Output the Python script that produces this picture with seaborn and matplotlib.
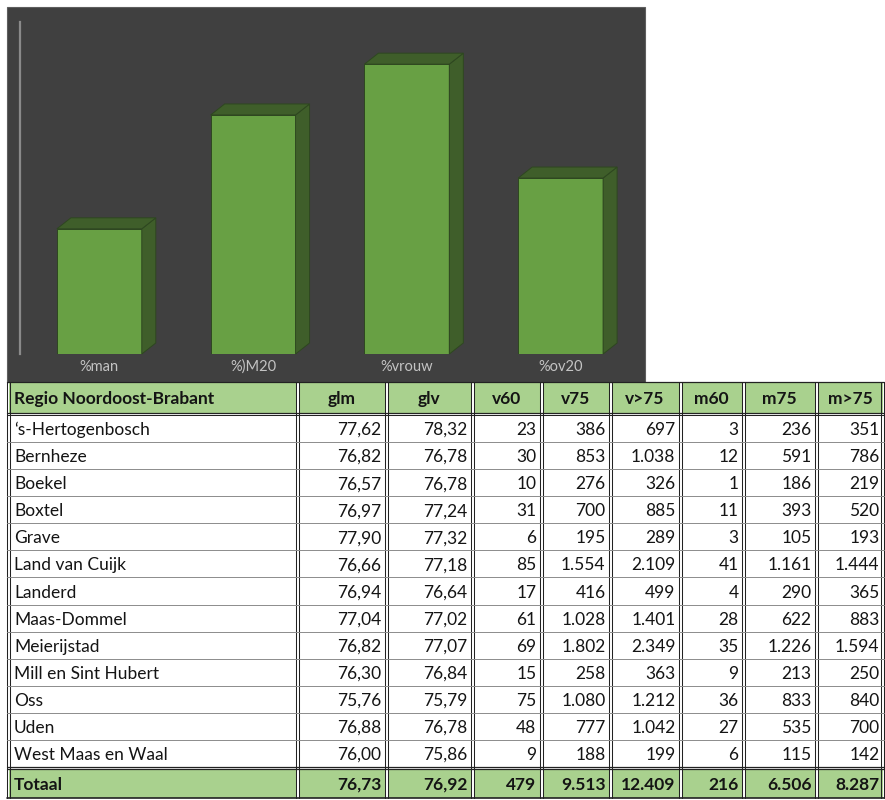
import matplotlib
matplotlib.use("Agg")
import matplotlib.pyplot as plt
import seaborn as sns
import pandas as pd
from matplotlib.patches import Polygon, Rectangle

# ---------------- data ----------------
bar_categories = ["%man", "%)M20", "%vrouw", "%ov20"]
bar_values = [37.7, 72.0, 87.3, 53.0]

regions = ["\u2018s-Hertogenbosch", "Bernheze", "Boekel", "Boxtel", "Grave",
           "Land van Cuijk", "Landerd", "Maas-Dommel", "Meierijstad",
           "Mill en Sint Hubert", "Oss", "Uden", "West Maas en Waal"]
glm = [77.62, 76.82, 76.57, 76.97, 77.90, 76.66, 76.94, 77.04, 76.82, 76.30, 75.76, 76.88, 76.00]
glv = [78.32, 76.78, 76.78, 77.24, 77.32, 77.18, 76.64, 77.02, 77.07, 76.84, 75.79, 76.78, 75.86]
v60 = [23, 30, 10, 31, 6, 85, 17, 61, 69, 15, 75, 48, 9]
v75 = [386, 853, 276, 700, 195, 1554, 416, 1028, 1802, 258, 1080, 777, 188]
v_gt75 = [697, 1038, 326, 885, 289, 2109, 499, 1401, 2349, 363, 1212, 1042, 199]
m60 = [3, 12, 1, 11, 3, 41, 4, 28, 35, 9, 36, 27, 6]
m75 = [236, 591, 186, 393, 105, 1161, 290, 622, 1226, 213, 833, 535, 115]
m_gt75 = [351, 786, 219, 520, 193, 1444, 365, 883, 1594, 250, 840, 700, 142]
total_label = "Totaal"
totals = [76.73, 76.92, 479, 9513, 12409, 216, 6506, 8287]
headers = ["Regio Noordoost-Brabant", "glm", "glv", "v60", "v75", "v>75", "m60", "m75", "m>75"]

# ---------------- figure ----------------
sns.set_theme(style="white")
plt.rcParams["font.family"] = ["Lato", "DejaVu Sans"]

W, H = 885, 800
fig = plt.figure(figsize=(W / 100, H / 100), dpi=100)
fig.patch.set_facecolor("white")


def fx(px):
    return px / W


def fy(py):
    return 1 - py / H


# dark chart panel
panel = Rectangle((fx(7), fy(382)), fx(645) - fx(7), fy(7) - fy(382),
                  transform=fig.transFigure, facecolor="#404040",
                  edgecolor="#5e5e5e", lw=0.8, zorder=-5)
fig.patches.append(panel)

ax = fig.add_axes([fx(20), fy(354), fx(640) - fx(20), fy(22) - fy(354)])
ax.set_zorder(2)
ax.patch.set_alpha(0)
df = pd.DataFrame({"cat": bar_categories, "val": bar_values})
front = "#68A044"
dark = "#3F5E2A"
edge = "#2E4720"
sns.barplot(data=df, x="cat", y="val", color=front, saturation=1, width=0.552,
            ax=ax, edgecolor=edge, linewidth=0.7)
ax.set_xlim(-0.516, 3.516)
ax.set_ylim(0, 100)

dx, dy = 14 / 153.8, 11 / 3.32
for p in list(ax.patches):
    x0, w, h = p.get_x(), p.get_width(), p.get_height()
    side = Polygon([(x0 + w, 0), (x0 + w + dx, dy), (x0 + w + dx, h + dy), (x0 + w, h)],
                   closed=True, facecolor=dark, edgecolor=edge, lw=0.7, clip_on=False)
    top = Polygon([(x0, h), (x0 + dx, h + dy), (x0 + w + dx, h + dy), (x0 + w, h)],
                  closed=True, facecolor=dark, edgecolor=edge, lw=0.7, clip_on=False)
    ax.add_patch(side)
    ax.add_patch(top)

ax.set_xlabel("")
ax.set_ylabel("")
ax.set_yticks([])
for s in ["top", "right", "bottom"]:
    ax.spines[s].set_visible(False)
ax.spines["left"].set_color("#8a8a8a")
ax.spines["left"].set_linewidth(1.6)
ax.tick_params(axis="x", length=0, pad=4, labelsize=10.5, labelcolor="#c4c4c4")

# ---------------- table ----------------
tax = fig.add_axes([0, 0, 1, 1])
tax.set_zorder(1)
tax.set_xlim(0, W)
tax.set_ylim(H, 0)
tax.axis("off")
tax.patch.set_alpha(0)

bounds = [7, 297, 386, 472, 541, 610, 680, 743, 816, 884]
y_head_top, y_head_bot = 382, 413
y_rows_top = 415
row_h = (767 - 415) / 13
y_tot_top, y_tot_bot = 769, 798
green = "#A9D18E"
linec = "#222222"

for i in range(len(bounds) - 1):
    l, r = bounds[i] + 1.5, bounds[i + 1] - 1.5
    tax.add_patch(Rectangle((l, y_head_top), r - l, y_head_bot - y_head_top,
                            facecolor=green, edgecolor="none"))
    tax.add_patch(Rectangle((l, y_tot_top), r - l, y_tot_bot - y_tot_top,
                            facecolor=green, edgecolor="none"))

# vertical double lines
for j, b in enumerate(bounds):
    if j == 0:
        xs = [b, b + 3]
    elif j == len(bounds) - 1:
        xs = [b - 3, b]
    else:
        xs = [b - 1.5, b + 1.5]
    for xv in xs:
        tax.plot([xv, xv], [y_head_top, y_tot_bot], color=linec, lw=0.75)

# horizontal lines
tax.plot([7, 884], [y_head_top, y_head_top], color=linec, lw=0.9)
tax.plot([7, 884], [y_head_bot, y_head_bot], color=linec, lw=0.9)
tax.plot([7, 884], [y_rows_top, y_rows_top], color=linec, lw=0.75)
for i in range(1, 13):
    yy = y_rows_top + i * row_h
    tax.plot([7, 884], [yy, yy], color="#8c8c8c", lw=0.7)
tax.plot([7, 884], [767, 767], color=linec, lw=0.9)
tax.plot([7, 884], [y_tot_top, y_tot_top], color=linec, lw=0.9)
tax.plot([7, 884], [y_tot_bot, y_tot_bot], color=linec, lw=1.2)


def nl_dec(v):
    return f"{v:.2f}".replace(".", ",")


def nl_int(v):
    return f"{v:,}".replace(",", ".")


fs = 12.5
tc = "#141414"
# header
for i, htxt in enumerate(headers):
    yc = (y_head_top + y_head_bot) / 2 + 1.5
    if i == 0:
        tax.text(bounds[0] + 7, yc, htxt, ha="left", va="center", fontsize=fs,
                 fontweight="bold", color=tc)
    else:
        tax.text((bounds[i] + bounds[i + 1]) / 2, yc, htxt, ha="center", va="center",
                 fontsize=fs, fontweight="bold", color=tc)

cols = [glm, glv, v60, v75, v_gt75, m60, m75, m_gt75]
for r, name in enumerate(regions):
    yc = y_rows_top + (r + 0.5) * row_h + 1.5
    tax.text(bounds[0] + 7, yc, name, ha="left", va="center", fontsize=fs, color=tc)
    for c, col in enumerate(cols):
        val = col[r]
        s = nl_dec(val) if c < 2 else nl_int(val)
        tax.text(bounds[c + 2] - 4.5, yc, s, ha="right", va="center", fontsize=fs,
                 color=tc)

yc = (y_tot_top + y_tot_bot) / 2 + 1.5
tax.text(bounds[0] + 7, yc, total_label, ha="left", va="center", fontsize=fs,
         fontweight="bold", color=tc)
for c, val in enumerate(totals):
    s = nl_dec(val) if c < 2 else nl_int(val)
    tax.text(bounds[c + 2] - 4.5, yc, s, ha="right", va="center", fontsize=fs,
             fontweight="bold", color=tc)

fig.savefig("out.png", dpi=100)
